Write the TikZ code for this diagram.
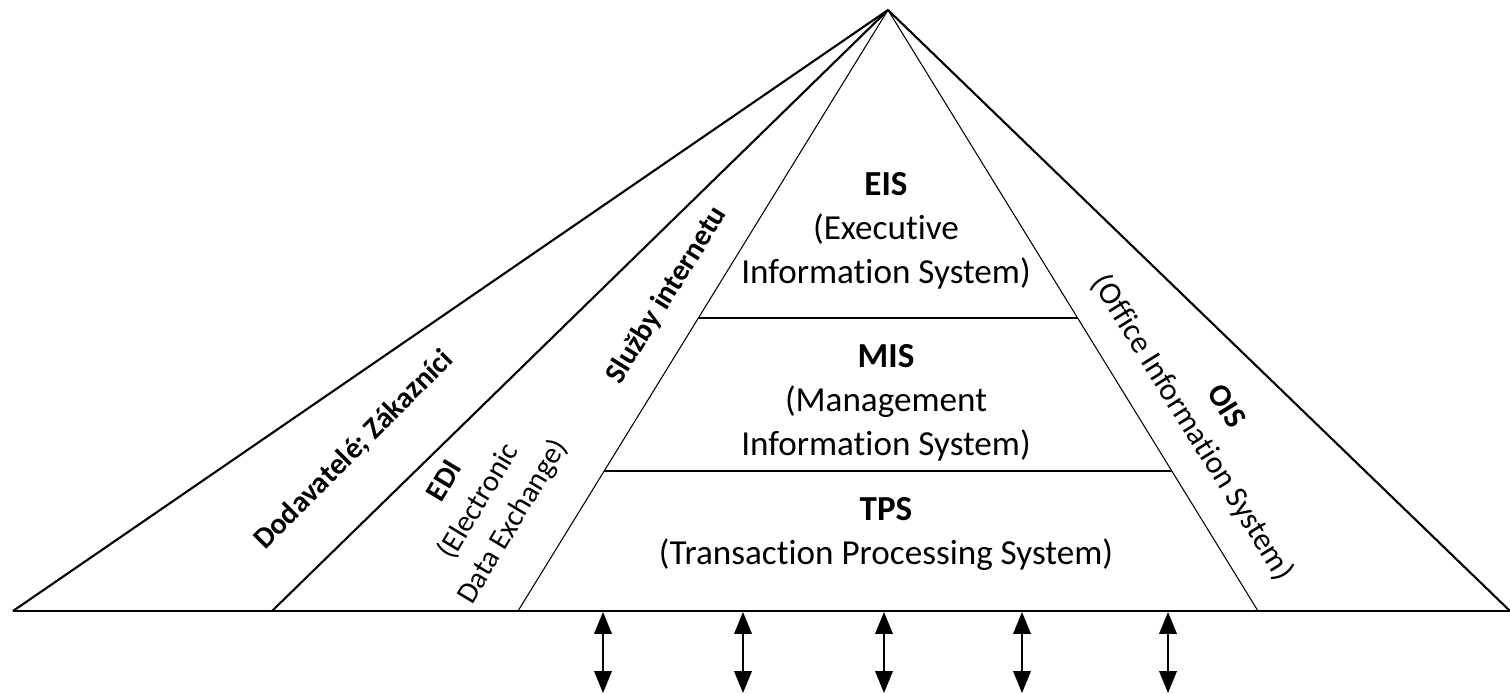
\documentclass[tikz,border=0pt]{standalone}
\usepackage{fontspec}
\setmainfont{Carlito}[Ligatures=NoCommon]
\usetikzlibrary{arrows.meta,calc}

\begin{document}
\begin{tikzpicture}[
    x=0.02cm, y=-0.02cm,
    heavy/.style={line width=1.2pt},
    light/.style={line width=0.6pt},
    every node/.style={align=center, inner sep=0pt, font=\fontsize{20}{25}\selectfont},
    side/.style={font=\fontsize{17}{22.5}\selectfont},
    link/.style={line width=1.1pt, {Triangle[length=12.5pt,width=10pt]}-{Triangle[length=12.5pt,width=10pt]}}]

\useasboundingbox (0,0) rectangle (1510,693);

% pyramid corners
\coordinate (top) at (888,10);
\coordinate (bl) at (13,611);
\coordinate (ml) at (272,611);
\coordinate (il) at (518,611);
\coordinate (ir) at (1258,611);
\coordinate (br) at (1510,611);

\draw[heavy] (top) -- (bl);
\draw[heavy] (top) -- (ml);
\draw[light] (top) -- (il);
\draw[light] (top) -- (ir);
\draw[heavy] (top) -- (br);
\draw[line width=1.4pt] (bl) -- (br);

% levels
\draw[heavy] ($(top)!0.5125!(il)$) -- ($(top)!0.5125!(ir)$);
\draw[heavy] ($(top)!0.767!(il)$) -- ($(top)!0.767!(ir)$);

\node (eis) at (886,231) {\textbf{EIS}\\(Executive\\Information System)};
\node (mis) at (886,403) {\textbf{MIS}\\(Management\\Information System)};
\node (tps) at (886,534) {\textbf{TPS}\\(Transaction Processing System)};

\node[side, rotate=45] (dz) at (354,450) {\textbf{Dodavatelé; Zákazníci}};
\node[side, rotate=59] (edi) at (480,502) {\textbf{EDI}\\(Electronic\\Data Exchange)};
\node[side, rotate=58] (web) at (667,295) {\textbf{Služby internetu}};
\node[side, font=\fontsize{18}{22.5}\selectfont, rotate=-58] (ois) at (1208,418) {\textbf{OIS}\\(Office Information System)};

% links below the base
\foreach \x in {603,743,884,1022,1168}
    \draw[link] (\x,612) -- (\x,693);

\end{tikzpicture}
\end{document}
